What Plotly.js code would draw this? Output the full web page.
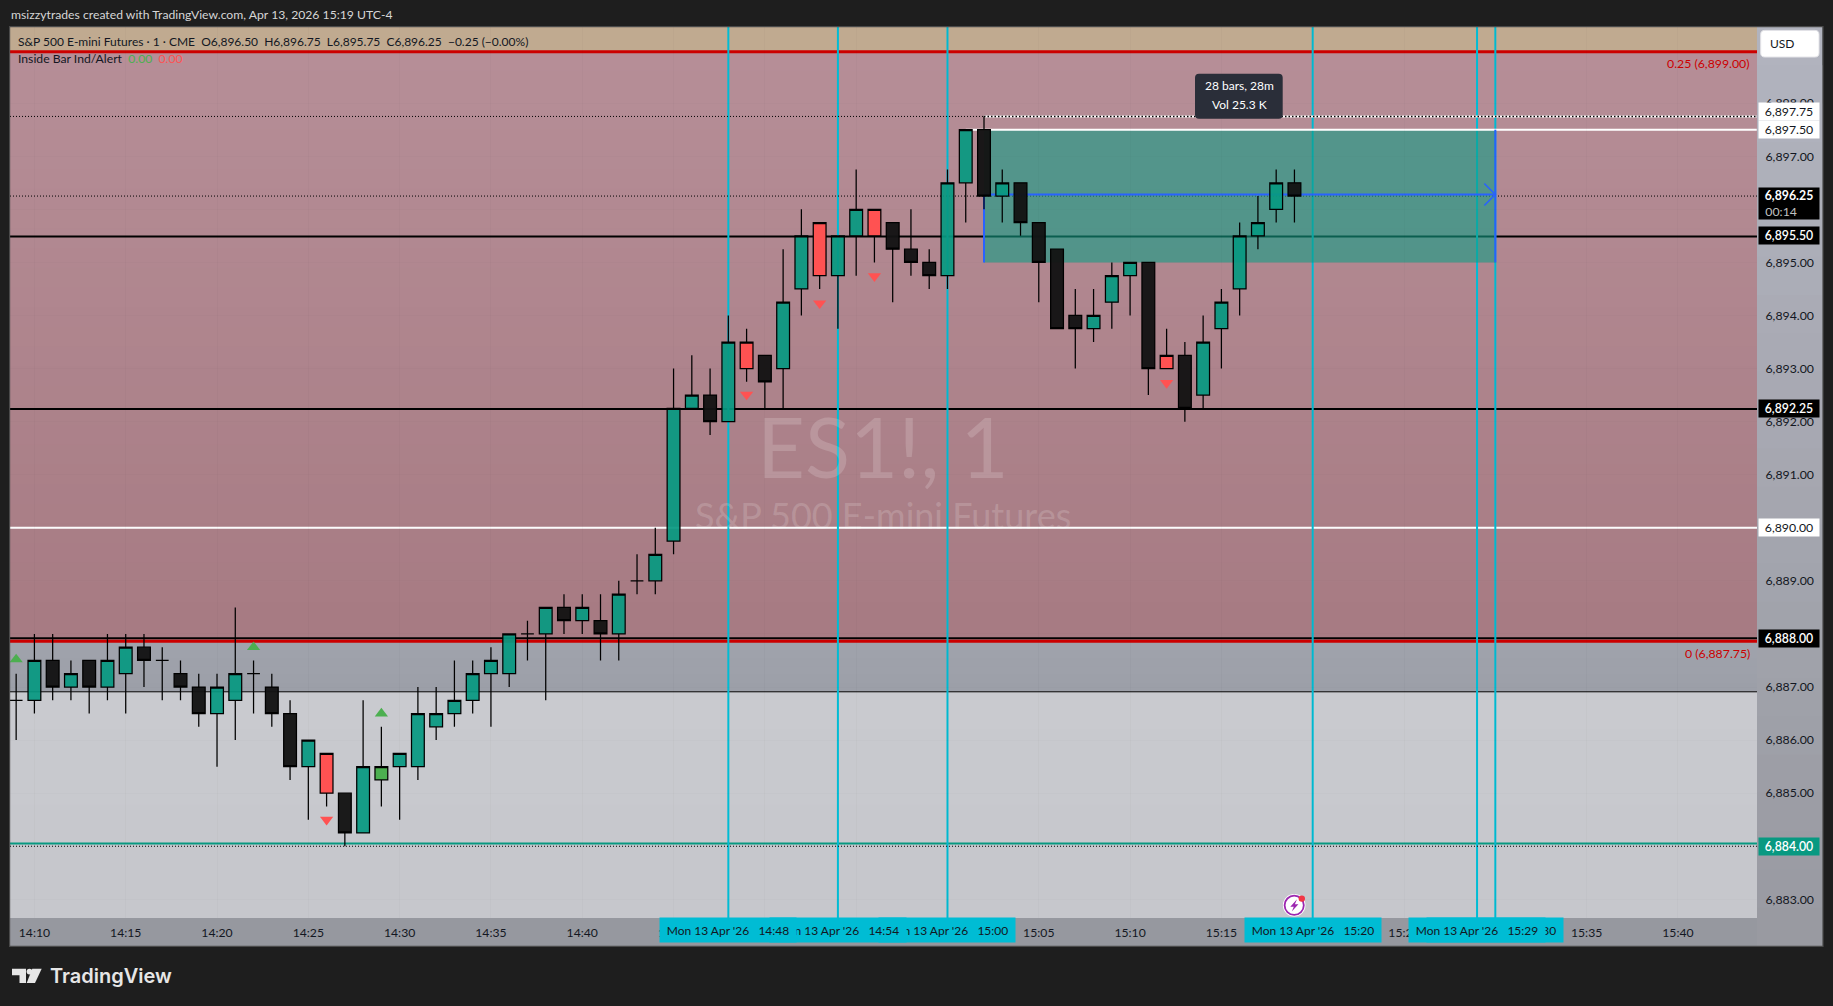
<!DOCTYPE html>
<html><head><meta charset="utf-8">
<script src="https://cdn.plot.ly/plotly-3.0.1.min.js"></script>
<style>html,body{margin:0;padding:0;background:#1e1e1e;overflow:hidden}#c{width:1833px;height:1006px}</style>
</head><body><div id="c"></div>
<script>
// ---------- chart data ----------
const minutes = ['14:09','14:10','14:11','14:12','14:13','14:14','14:15','14:16','14:17','14:18','14:19','14:20','14:21','14:22','14:23','14:24','14:25','14:26','14:27','14:28','14:29','14:30','14:31','14:32','14:33','14:34','14:35','14:36','14:37','14:38','14:39','14:40','14:41','14:42','14:43','14:44','14:45','14:46','14:47','14:48','14:49','14:50','14:51','14:52','14:53','14:54','14:55','14:56','14:57','14:58','14:59','15:00','15:01','15:02','15:03','15:04','15:05','15:06','15:07','15:08','15:09','15:10','15:11','15:12','15:13','15:14','15:15','15:16','15:17','15:18','15:19'];
const opens = [6886.75,6886.75,6887.5,6887,6887.5,6887,6887.25,6887.75,6887.5,6887.25,6887,6886.5,6886.75,6887.25,6887,6886.5,6885.5,6885,6885,6884.25,6885.25,6885.5,6885.5,6886.25,6886.5,6886.75,6887.25,6887.25,6888,6888,6888.5,6888.25,6888.25,6888,6889,6889,6889.75,6892.25,6892.5,6892,6893,6893.25,6893,6894.5,6894.75,6894.75,6895.5,6895.5,6895.75,6895.25,6895,6894.75,6896.5,6897.5,6896.25,6896.5,6895.75,6895.25,6894,6893.75,6894.25,6894.75,6895,6893,6893.25,6892.5,6893.75,6894.5,6895.5,6896,6896.5];
const highs = [6887.25,6888,6888,6887.5,6887.5,6888,6888,6888,6887.75,6887.5,6887.25,6887.25,6888.5,6887.5,6887.25,6886.75,6886,6885.75,6885,6886.75,6886.25,6885.75,6887,6887,6887.5,6887.5,6887.75,6888,6888.25,6888.5,6888.75,6888.75,6888.75,6889,6889.5,6890,6893,6893.25,6893,6894,6893.75,6893.25,6895.25,6896,6895.75,6895.5,6896.75,6896,6895.75,6896,6895.25,6896.75,6897.5,6897.75,6896.75,6896.5,6895.75,6895.25,6894.5,6894.5,6895,6895,6895,6893.75,6893.5,6894,6894.5,6895.75,6896.25,6896.75,6896.75];
const lows = [6886,6886.5,6886.75,6886.75,6886.5,6886.75,6886.5,6887,6886.75,6886.75,6886.25,6885.5,6886,6886.5,6886.25,6885.25,6884.5,6884.75,6884,6884.25,6884.75,6884.5,6885.25,6886,6886.25,6886.5,6886.25,6887,6887.5,6886.75,6888,6888,6887.5,6887.5,6888.75,6888.75,6889.5,6892.25,6891.75,6892,6892.75,6892.25,6892.25,6894,6894.5,6893.75,6894.75,6895,6894.25,6894.75,6894.5,6894.5,6895.75,6896,6895.75,6895.5,6894.25,6893.75,6893,6893.5,6893.75,6894,6892.5,6893,6892,6892.25,6893,6894,6895.25,6895.75,6895.75];
const closes = [6886.75,6887.5,6887,6887.25,6887,6887.5,6887.75,6887.5,6887.5,6887,6886.5,6887,6887.25,6887.25,6886.5,6885.5,6886,6885.75,6884.25,6885.5,6885.5,6885.75,6886.5,6886.5,6886.75,6887.25,6887.5,6888,6888,6888.5,6888.25,6888.5,6888,6888.75,6889,6889.5,6892.25,6892.5,6892,6893.5,6893.5,6892.75,6894.25,6895.5,6895.75,6895.5,6896,6896,6895.25,6895,6894.75,6896.5,6897.5,6896.25,6896.5,6895.75,6895,6893.75,6893.75,6894,6894.75,6895,6893,6893.25,6892.25,6893.5,6894.25,6895.5,6895.75,6896.5,6896.25];
const barColors = ['k','t','k','t','k','t','t','k','k','k','k','t','t','k','k','k','t','r','k','t','g','t','t','t','t','t','t','t','k','t','k','t','k','t','k','t','t','t','k','t','r','k','t','t','r','t','t','r','k','k','k','t','t','k','t','k','k','k','k','t','t','t','k','r','k','t','t','t','t','t','k'];
const upMarkerTimes = ['14:09','14:22','14:29'];
const upMarkerPrices = [6887.52,6887.75,6886.5];
const downMarkerTimes = ['14:26','14:49','14:53','14:56','15:12'];
const downMarkerPrices = [6884.5,6892.51,6894.23,6894.74,6892.73];
const priceTicks = [6883,6884,6885,6886,6887,6888,6889,6890,6891,6892,6893,6894,6895,6896,6897,6898];
const verticalMarks = ['15:30','15:29','15:20','15:00','14:54','14:48'];
const redLevels = [6898.97,6887.86];
const blackLevels = [6895.49,6892.24,6887.92];
const thinBlackLevel = 6886.91;
const whiteLevel = 6890;
const lastPrice = 6896.25, lastHigh = 6897.75, lastLow = 6884, lowMark = 6884.05, rangeTop = 6897.5, rangeBottom = 6895, rangeStart = '15:02', rangeEnd = '15:30', rangeMid = 6896.28;
const tagPrices = [6897.75,6897.5,6895.5,6892.25,6890,6887.92,6884];
const tagLabels = ['6,897.75','6,897.50','6,895.50','6,892.25','6,890.00','6,888.00','6,884.00'];
const tagKinds = ['w','w','k','k','w','k','g'];

// ---------- helpers ----------
const D = t => '2026-04-13 ' + t + ':00';
const L=10,R=1757,T=27.3,B=917.7;
const px = x => (x-L)/(R-L), py = y => (B-y)/(B-T);
const FONT = 'Lato, "Noto Sans", sans-serif';
const hex = (a,b,t)=>{const c=[0,1,2].map(i=>Math.round(a[i]+(b[i]-a[i])*t));return `rgb(${c[0]},${c[1]},${c[2]})`;};

const shapes = [];
function bandsY(p0,p1,c0,c1,n){ for(let i=0;i<n;i++){ const t=i/n; shapes.push({type:'rect',layer:'below',xref:'paper',yref:'y',x0:0,x1:1,y0:p0+(p1-p0)*t,y1:p1,line:{width:0},fillcolor:hex(c0,c1,t)}); } }
function bandsPaper(x0,x1,y0,y1,c0,c1,n){ for(let i=0;i<n;i++){ const t=i/n; shapes.push({type:'rect',layer:'below',xref:'paper',yref:'paper',x0:px(x0),x1:px(x1),y0:py(y0+(y1-y0)*t),y1:py(y1),line:{width:0},fillcolor:hex(c0,c1,t)}); } }
function roundRect(x0,y0,x1,y1,r,fill,line,layer){
  const X=px,Y=py;
  const p=`M${X(x0+r)},${Y(y0)}L${X(x1-r)},${Y(y0)}Q${X(x1)},${Y(y0)} ${X(x1)},${Y(y0+r)}L${X(x1)},${Y(y1-r)}Q${X(x1)},${Y(y1)} ${X(x1-r)},${Y(y1)}L${X(x0+r)},${Y(y1)}Q${X(x0)},${Y(y1)} ${X(x0)},${Y(y1-r)}L${X(x0)},${Y(y0+r)}Q${X(x0)},${Y(y0)} ${X(x0+r)},${Y(y0)}Z`;
  shapes.push({type:'path',xref:'paper',yref:'paper',path:p,fillcolor:fill,line:line||{width:0},layer:layer||'above'});
}
function polyPx(pts,fill,layer){
  const p='M'+pts.map(q=>`${px(q[0])},${py(q[1])}`).join('L')+'Z';
  shapes.push({type:'path',xref:'paper',yref:'paper',path:p,fillcolor:fill,line:{width:0},layer:layer||'above'});
}
function circPx(cx,cy,r,fill,line){ shapes.push({type:'circle',xref:'paper',yref:'paper',x0:px(cx-r),x1:px(cx+r),y0:py(cy+r),y1:py(cy-r),fillcolor:fill,line:line||{width:0},layer:'above'}); }
function hline(p,color,width,dash,start){ shapes.push({type:'line',layer:'below',xref:start?'x':'paper',yref:'y',x0:start?D(start):0,x1:start?'2026-04-13 15:44:19':1,y0:p,y1:p,line:{color:color,width:width,dash:dash||'solid'}}); }

// panel backgrounds
bandsPaper(R,1822.7,T,945.7,[177,179,190],[152,153,160],24);
bandsPaper(L,R,B,945.7,[150,152,159],[150,152,159],1);
// zones
bandsY(6899.435,6898.98,[192,170,144],[192,169,143],1);
bandsY(6898.98,6887.86,[182,142,151],[166,122,130],30);
bandsY(6887.86,6886.92,[160,163,172],[155,158,167],6);
bandsY(6886.92,6882.648,[201,202,207],[197,198,203],6);

// levels
hline(thinBlackLevel,'#000000',1);
hline(whiteLevel,'#ffffff',2);
blackLevels.forEach(p=>hline(p,'#000000',2));
redLevels.forEach(p=>hline(p,'#cc0000',3));
hline(lowMark,'#089981',2);
// cyan vertical marks
verticalMarks.forEach(t=>shapes.push({type:'line',layer:'below',xref:'x',yref:'paper',x0:D(t),x1:D(t),y0:0,y1:1,line:{color:'#00bcd4',width:2}}));
// date range box
shapes.push({type:'rect',layer:'below',xref:'x',yref:'y',x0:D(rangeStart),x1:D(rangeEnd),y0:rangeBottom,y1:rangeTop,fillcolor:'rgba(18,157,133,0.6)',line:{width:0}});
hline(rangeTop,'#ffffff',2,'solid','15:01');
hline(lastHigh,'#ffffff',2,'solid','15:02');
// blue range markers
shapes.push({type:'line',layer:'below',xref:'x',yref:'y',x0:D(rangeStart),x1:D(rangeStart),y0:rangeBottom,y1:rangeMid,line:{color:'#2962ff',width:2}});
shapes.push({type:'line',layer:'below',xref:'x',yref:'y',x0:D(rangeEnd),x1:D(rangeEnd),y0:rangeBottom,y1:rangeTop,line:{color:'#2962ff',width:2}});
shapes.push({type:'line',layer:'below',xref:'x',yref:'y',x0:D(rangeStart),x1:D(rangeEnd),y0:rangeMid,y1:rangeMid,line:{color:'#2962ff',width:2}});
shapes.push({type:'path',layer:'below',xref:'x',yref:'y',xsizemode:'pixel',ysizemode:'pixel',xanchor:D(rangeEnd),yanchor:rangeMid,path:'M-11,-11L0,0L-11,11',line:{color:'#2962ff',width:1.6}});
// dotted last price / high / low
[lastHigh,lastPrice,lastLow].forEach(p=>hline(p,'#000000',1,'1px,2px'));
hline(lastHigh,'#000000',1.6,'1.5px,2px','15:02');
// panel border
shapes.push({type:'rect',layer:'above',xref:'paper',yref:'paper',x0:px(9.6),x1:px(1823),y0:py(946),y1:py(27),line:{color:'#4a4a4a',width:1.2},fillcolor:'rgba(0,0,0,0)'});
// USD button, tooltip
roundRect(1760.7,30.7,1819,57.3,4,'#ffffff',{width:1,color:'#e4e4e8'});
roundRect(1195,74,1282.7,119,4,'#2a2e39');
// alert icon
circPx(1294.2,905,11.3,'#ffffff',{width:0});
circPx(1294.2,905,9.6,'#ffffff',{color:'#9c27b0',width:1.8});
polyPx([[1297,899],[1290.3,906.5],[1293.8,906.5],[1291.8,911.2],[1298.4,904],[1294.9,904]],'#9c27b0');
circPx(1301.8,898.3,3.2,'#f23645',{width:0});
// logo
polyPx([[12,968.3],[26,968.3],[26,982.7],[19.5,982.7],[19.5,975],[12,975]],'#e6e6e6');
circPx(29.5,971.2,2.9,'#e6e6e6',{width:0});
polyPx([[32.3,968.3],[41.7,968.3],[35,982.7],[26.7,982.7]],'#e6e6e6');

// ---------- traces ----------
const fills = {t:'rgba(8,153,129,0.93)',k:'rgba(19,19,19,0.96)',r:'rgb(255,82,82)',g:'rgb(76,175,80)'};
const traces = Object.keys(fills).map(key=>{
  const idx = barColors.map((c,i)=>c===key?i:-1).filter(i=>i>=0);
  const style = {line:{color:'#000000',width:1.25},fillcolor:fills[key]};
  return {type:'candlestick',x:idx.map(i=>D(minutes[i])),open:idx.map(i=>opens[i]),high:idx.map(i=>highs[i]),low:idx.map(i=>lows[i]),close:idx.map(i=>closes[i]),
    increasing:style,decreasing:style,whiskerwidth:0,hoverinfo:'skip',showlegend:false};
});
traces.push({type:'scatter',mode:'markers',x:upMarkerTimes.map(D),y:upMarkerPrices,marker:{symbol:'triangle-up',size:11.5,color:'#4caf50',line:{width:0}},hoverinfo:'skip',showlegend:false});
traces.push({type:'scatter',mode:'markers',x:downMarkerTimes.map(D),y:downMarkerPrices,marker:{symbol:'triangle-down',size:11.5,color:'#ff5252',line:{width:0}},hoverinfo:'skip',showlegend:false});

// ---------- annotations ----------
const notes = [];
const textAt = (x,y,text,size,color,anchor,extra)=>notes.push(Object.assign({xref:'paper',yref:'paper',x:px(x),y:py(y),text:text,showarrow:false,xanchor:anchor||'left',yanchor:'middle',font:{family:FONT,size:size,color:color}},extra||{}));

textAt(883,446,'ES1!, 1',83,'rgba(255,255,255,0.17)','center');
textAt(883,515,'S&amp;P 500 E-mini Futures',36,'rgba(255,255,255,0.17)','center');
textAt(9,15,'msizzytrades created with TradingView.com, Apr 13, 2026 15:19 UTC-4',12.2,'#d6d6d6');
textAt(16,42,'S&amp;P 500 E-mini Futures · 1 · CME\u00A0\u00A0O6,896.50\u00A0\u00A0H6,896.75\u00A0\u00A0L6,895.75\u00A0\u00A0C6,896.25\u00A0\u00A0−0.25 (−0.00%)',12,'#131722');
textAt(16,59,'Inside Bar Ind/Alert\u00A0\u00A0<span style="color:#4caf50">0.00</span>\u00A0\u00A0<span style="color:#ff5252">0.00</span>',12.2,'#131722');
textAt(1751.5,63.5,'0.25 (6,899.00)',12.3,'#cc0000','right');
textAt(1751.5,653,'0 (6,887.75)',12.3,'#cc0000','right');
textAt(1768,44,'USD',12,'#131722');
textAt(1239,86,'28 bars, 28m',12,'#ffffff','center');
textAt(1239,105,'Vol 25.3 K',12,'#ffffff','center');
textAt(48,975.5,'TradingView',20,'#e6e6e6','left',{font:{family:'Inter, '+FONT,size:20,color:'#e6e6e6',weight:600}});

const tagStyle={w:['#ffffff','#131722'],k:['#000000','#ffffff'],g:['#089981','#ffffff']};
tagPrices.forEach((p,i)=>{
  const s=tagStyle[tagKinds[i]];
  notes.push({xref:'paper',yref:'y',x:px(1758),y:p,xanchor:'left',yanchor:'middle',showarrow:false,text:tagLabels[i],width:60,height:17,bgcolor:s[0],borderpad:0,font:{family:FONT,size:12.3,color:s[1],weight:tagKinds[i]==='w'?400:600},yshift:i===0?5.4:0});
});
notes.push({xref:'paper',yref:'y',x:px(1758),y:lastPrice,xanchor:'left',yanchor:'middle',showarrow:false,align:'center',text:'<b>6,896.25</b><br><span style="color:#c0c0c0">00:14\u00A0\u00A0\u00A0\u00A0\u00A0</span>',width:60,height:31,bgcolor:'#000000',borderpad:0,font:{family:FONT,size:12.3,color:'#ffffff'},yshift:-7.2});
verticalMarks.forEach(t=>{
  notes.push({xref:'x',yref:'paper',x:D(t),y:py(929.7),xanchor:'center',yanchor:'middle',showarrow:false,text:"Mon 13 Apr '26\u00A0\u00A0\u00A0"+t,width:136,height:24,bgcolor:'#00bcd4',borderpad:0,font:{family:FONT,size:12,color:'#131722'}});
});

// ---------- layout ----------
const layout = {
  width:1833,height:1006,autosize:false,
  margin:{l:L,r:1833-R,t:T,b:1006-B,pad:0},
  paper_bgcolor:'#1e1e1e',plot_bgcolor:'rgba(0,0,0,0)',
  showlegend:false,boxmode:'overlay',boxgap:0.3,boxgroupgap:0,
  font:{family:FONT,size:12,color:'#131722'},
  xaxis:{type:'date',range:['2026-04-13 14:08:39.8','2026-04-13 15:44:19.8'],rangeslider:{visible:false},tick0:'2026-04-13 14:10:00',dtick:300000,tickformat:'%H:%M',
    ticks:'outside',ticklen:3,tickcolor:'rgba(0,0,0,0)',showgrid:true,gridcolor:'rgba(0,0,0,0.018)',gridwidth:1,zeroline:false,showline:false,tickfont:{family:FONT,size:12.2,color:'#131722'},fixedrange:true},
  yaxis:{side:'right',range:[6882.648,6899.435],tickmode:'array',tickvals:priceTicks,tickformat:',.2f',ticklabelshift:1.2,ticks:'outside',ticklen:5,tickcolor:'rgba(0,0,0,0)',showgrid:true,gridcolor:'rgba(0,0,0,0.012)',zeroline:false,showline:false,tickfont:{family:FONT,size:12.3,color:'#131722'},fixedrange:true},
  shapes:shapes,annotations:notes
};
Plotly.newPlot('c',traces,layout,{staticPlot:true,displayModeBar:false});
</script></body></html>
